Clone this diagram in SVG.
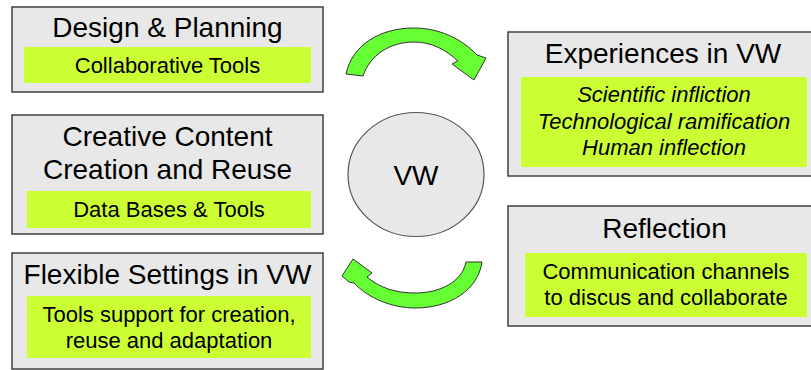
<svg xmlns="http://www.w3.org/2000/svg" width="811" height="370" viewBox="0 0 811 370">
<style>
.box{fill:#e8e8e8;stroke:#404040;stroke-width:1.5}
.hl{fill:#ccff33}
.t{font-family:"Liberation Sans",Arial,sans-serif;font-size:28px;fill:#000;text-anchor:middle}
.s{font-family:"Liberation Sans",Arial,sans-serif;font-size:22px;fill:#000;text-anchor:middle}
.i{font-style:italic}
.arr{fill:#66ff33;stroke:#333;stroke-width:1}
</style>
<rect width="811" height="370" fill="#fff"/>
<g id="design">
<rect class="box" x="12" y="7" width="311" height="85"/>
<rect class="hl" x="24" y="47" width="287" height="36"/>
<text class="t" x="167.5" y="37">Design &amp; Planning</text>
<text class="s" x="167.5" y="73">Collaborative Tools</text>
</g>
<g id="creative">
<rect class="box" x="12" y="115" width="311" height="119"/>
<rect class="hl" x="27" y="191" width="284" height="37"/>
<text class="t" x="167.5" y="146">Creative Content</text>
<text class="t" x="167.5" y="179">Creation and Reuse</text>
<text class="s" x="169" y="217">Data Bases &amp; Tools</text>
</g>
<g id="flexible">
<rect class="box" x="12" y="253" width="311" height="116"/>
<rect class="hl" x="27" y="296" width="284" height="62"/>
<text class="t" x="167.5" y="284">Flexible Settings in VW</text>
<text class="s" x="169" y="322">Tools support for creation,</text>
<text class="s" x="169" y="348">reuse and adaptation</text>
</g>
<g id="experiences">
<rect class="box" x="508" y="32" width="310" height="144"/>
<rect class="hl" x="521" y="77" width="286" height="90"/>
<text class="t" x="663" y="63">Experiences in VW</text>
<text class="s i" x="664" y="102">Scientific infliction</text>
<text class="s i" x="664" y="129">Technological ramification</text>
<text class="s i" x="664" y="155">Human inflection</text>
</g>
<g id="reflection">
<rect class="box" x="508" y="206" width="310" height="120"/>
<rect class="hl" x="525" y="253" width="282" height="64"/>
<text class="t" x="664.5" y="238">Reflection</text>
<text class="s" x="666" y="279">Communication channels</text>
<text class="s" x="666" y="305">to discus and collaborate</text>
</g>
<g id="vw">
<ellipse cx="416" cy="174.5" rx="68" ry="62" fill="#e8e8e8" stroke="#555" stroke-width="1.2"/>
<text class="t" x="416" y="185">VW</text>
</g>
<g id="connectors">
<path class="arr" d="M346,74 C352,45 380,28 414,28 C438,28 461,38 477,55 L486,58 L474,80 L452,64 L458,61 C446,50 432,42 414,42 C390,42 370,55 363,76 Z"/>
<path class="arr" d="M482,262 C478,290 450,308 415,308 C392,308 368,298 354,283 L349,282 L342,276 L353,259 L372,273 L367,277 C380,288 396,293 415,293 C440,293 462,282 466,262 Z"/>
</g>
</svg>
